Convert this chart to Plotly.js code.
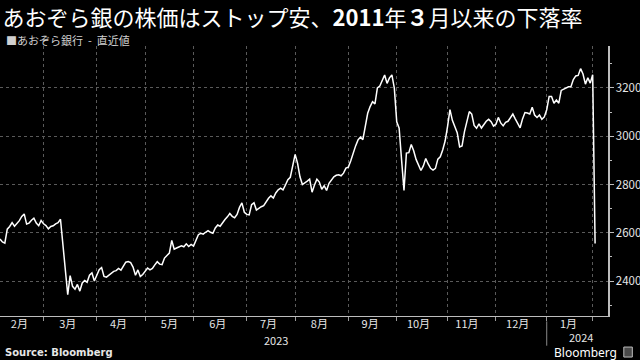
<!DOCTYPE html>
<html>
<head>
<meta charset="utf-8">
<script src="https://cdn.plot.ly/plotly-3.0.1.min.js"></script>
<style>html,body{margin:0;padding:0;background:#000;}#chart{width:640px;height:360px;}</style>
</head>
<body>
<div id="chart"></div>
<script>
// Trading dates (Tokyo) and closing prices of Aozora Bank (JPY)
const dates = [
"2023-02-02","2023-02-03","2023-02-06","2023-02-07","2023-02-08","2023-02-09","2023-02-10","2023-02-13","2023-02-14","2023-02-15","2023-02-16","2023-02-17","2023-02-20","2023-02-21","2023-02-22","2023-02-24","2023-02-27","2023-02-28",
"2023-03-01","2023-03-02","2023-03-03","2023-03-06","2023-03-07","2023-03-08","2023-03-09","2023-03-10","2023-03-13","2023-03-14","2023-03-15","2023-03-16","2023-03-17","2023-03-20","2023-03-22","2023-03-23","2023-03-24","2023-03-27","2023-03-28","2023-03-29","2023-03-30","2023-03-31",
"2023-04-03","2023-04-04","2023-04-05","2023-04-06","2023-04-07","2023-04-10","2023-04-11","2023-04-12","2023-04-13","2023-04-14","2023-04-17","2023-04-18","2023-04-19","2023-04-20","2023-04-21","2023-04-24","2023-04-25","2023-04-26","2023-04-27","2023-04-28",
"2023-05-01","2023-05-02","2023-05-08","2023-05-09","2023-05-10","2023-05-11","2023-05-12","2023-05-15","2023-05-16","2023-05-17","2023-05-18","2023-05-19","2023-05-22","2023-05-23","2023-05-24","2023-05-25","2023-05-26","2023-05-29","2023-05-30","2023-05-31",
"2023-06-01","2023-06-02","2023-06-05","2023-06-06","2023-06-07","2023-06-08","2023-06-09","2023-06-12","2023-06-13","2023-06-14","2023-06-15","2023-06-16","2023-06-19","2023-06-20","2023-06-21","2023-06-22","2023-06-23","2023-06-26","2023-06-27","2023-06-28","2023-06-29","2023-06-30",
"2023-07-03","2023-07-04","2023-07-05","2023-07-06","2023-07-07","2023-07-10","2023-07-11","2023-07-12","2023-07-13","2023-07-14","2023-07-18","2023-07-19","2023-07-20","2023-07-21","2023-07-24","2023-07-25","2023-07-26","2023-07-27","2023-07-28","2023-07-31",
"2023-08-01","2023-08-02","2023-08-03","2023-08-04","2023-08-07","2023-08-08","2023-08-09","2023-08-10","2023-08-14","2023-08-15","2023-08-16","2023-08-17","2023-08-18","2023-08-21","2023-08-22","2023-08-23","2023-08-24","2023-08-25","2023-08-28","2023-08-29","2023-08-30","2023-08-31",
"2023-09-01","2023-09-04","2023-09-05","2023-09-06","2023-09-07","2023-09-08","2023-09-11","2023-09-12","2023-09-13","2023-09-14","2023-09-15","2023-09-19","2023-09-20","2023-09-21","2023-09-22","2023-09-25","2023-09-26","2023-09-27","2023-09-28","2023-09-29",
"2023-10-02","2023-10-03","2023-10-04","2023-10-05","2023-10-06","2023-10-10","2023-10-11","2023-10-12","2023-10-13","2023-10-16","2023-10-17","2023-10-18","2023-10-19","2023-10-20","2023-10-23","2023-10-24","2023-10-25","2023-10-26","2023-10-27","2023-10-30","2023-10-31",
"2023-11-01","2023-11-02","2023-11-06","2023-11-07","2023-11-08","2023-11-09","2023-11-10","2023-11-13","2023-11-14","2023-11-15","2023-11-16","2023-11-17","2023-11-20","2023-11-21","2023-11-22","2023-11-24","2023-11-27","2023-11-28","2023-11-29","2023-11-30",
"2023-12-01","2023-12-04","2023-12-05","2023-12-06","2023-12-07","2023-12-08","2023-12-11","2023-12-12","2023-12-13","2023-12-14","2023-12-15","2023-12-18","2023-12-19","2023-12-20","2023-12-21","2023-12-22","2023-12-25","2023-12-26","2023-12-27","2023-12-28","2023-12-29",
"2024-01-04","2024-01-05","2024-01-09","2024-01-10","2024-01-11","2024-01-12","2024-01-15","2024-01-16","2024-01-17","2024-01-18","2024-01-19","2024-01-22","2024-01-23","2024-01-24","2024-01-25","2024-01-26","2024-01-29","2024-01-30","2024-01-31",
"2024-02-01","2024-02-02"
];
const prices = [
2574,2562,2557,2615,2626,2642,2627,2638,2650,2668,2678,2636,2640,2652,2660,2640,2629,2651,
2637,2630,2616,2626,2629,2637,2642,2656,2560,2450,2343,2422,2378,2366,2386,2358,2392,2402,2395,2424,2434,2400,
2425,2447,2456,2419,2416,2425,2432,2440,2443,2452,2445,2462,2478,2481,2476,2458,2424,2446,2419,2427,
2440,2454,2446,2452,2467,2480,2470,2468,2495,2506,2516,2568,2532,2537,2540,2546,2542,2554,2543,2552,
2545,2572,2592,2598,2594,2602,2609,2602,2598,2620,2632,2627,2642,2655,2666,2680,2668,2662,2676,2705,2724,2685,
2676,2674,2716,2724,2694,2702,2708,2712,2730,2743,2753,2744,2765,2778,2785,2778,2798,2820,2830,2880,
2925,2888,2832,2800,2806,2814,2822,2768,2798,2822,2810,2780,2795,2775,2805,2819,2832,2838,2840,2836,2847,2868,
2872,2898,2932,2960,2985,2996,2986,3045,3095,3123,3143,3134,3200,3208,3235,3254,3219,3242,3254,3200,
3060,3033,2902,2775,2930,2932,2966,2940,2904,2880,2858,2877,2908,2885,2867,2860,2867,2905,2915,2943,2980,
3040,3110,3066,3040,3015,2956,2960,3019,3060,3102,3092,3045,3033,3051,3034,3048,3062,3070,3060,3042,
3050,3078,3055,3043,3058,3062,3080,3092,3072,3050,3035,3072,3098,3096,3092,3120,3088,3078,3088,3070,3080,
3110,3165,3165,3137,3150,3137,3190,3195,3203,3205,3205,3235,3250,3252,3280,3258,3216,3242,3220,
3255,2555
];
// Tokyo market holidays on weekdays (for the trading-day axis)
const holidays = ["2023-02-23","2023-03-21","2023-05-03","2023-05-04","2023-05-05","2023-07-17","2023-08-11","2023-09-18","2023-10-09","2023-11-03","2023-11-23","2024-01-01","2024-01-02","2024-01-03","2024-01-08","2024-02-12"];
// Month boundaries (first trading day of each month)
const monthStarts = ["2023-03-01","2023-04-03","2023-05-01","2023-06-01","2023-07-03","2023-08-01","2023-09-01","2023-10-02","2023-11-01","2023-12-01","2024-01-04","2024-02-01"];
// Month label positions and texts
const monthMids = ["2023-02-14","2023-03-15","2023-04-14","2023-05-18","2023-06-15","2023-07-14","2023-08-16","2023-09-14","2023-10-16","2023-11-14","2023-12-14","2024-01-18"];
const monthLabels = ["2月","3月","4月","5月","6月","7月","8月","9月","10月","11月","12月","1月"];
// Year labels and their positions
const yearLabels = ["2023","2024"];
const yearPos = ["2023-07-20","2024-01-25"];
const yearY = [-0.088, -0.079];
const yTicks = [2400,2600,2800,3000,3200];

const FONT = '"Noto Sans CJK JP", "Noto Sans", sans-serif';
const breaks = [{bounds:["sat","mon"]},{values:holidays}];
const xRange = ["2023-02-02","2024-02-09 08:00"];

const trace = {
  x: dates, y: prices, type: 'scatter', mode: 'lines',
  line: {color:'#ffffff', width:1.5}, hoverinfo:'skip'
};

const annotations = [
  {text:'■あおぞら銀行  -  直近値', xref:'paper', yref:'paper', x:0.006, y:1.022,
   xanchor:'left', yanchor:'middle', showarrow:false, font:{family:FONT, size:11, color:'#d0d0d0'}},
  {text:'<b>Source: Bloomberg</b>', xref:'paper', yref:'paper', x:0.005, y:-0.134,
   xanchor:'left', yanchor:'middle', showarrow:false, font:{family:'"DejaVu Sans", sans-serif', size:10, color:'#e6e6e6'}},
  {text:'Bloomberg', xref:'paper', yref:'paper', x:1.018, y:-0.134,
   xanchor:'right', yanchor:'middle', showarrow:false, font:{family:'"Noto Sans", sans-serif', size:12, color:'#ffffff'}}
];
yearLabels.forEach((t, i) => annotations.push({
  text:t, xref:'x', yref:'paper', x:yearPos[i], y:yearY[i], xanchor:'center', yanchor:'middle',
  showarrow:false, font:{family:FONT, size:11, color:'#e6e6e6'}
}));

const layout = {
  width:640, height:360,
  paper_bgcolor:'#000', plot_bgcolor:'#000',
  margin:{l:0, r:32, t:46, b:44},
  showlegend:false,
  font:{family:FONT, color:'#e6e6e6', size:11},
  title:{text:'あおぞら銀の株価はストップ安、<b>2011</b>年<b>３</b>月以来の下落率',
         x:0.004, xanchor:'left', xref:'container', y:0.95, yanchor:'middle', yref:'container',
         font:{family:FONT, size:22, color:'#ffffff'}},
  xaxis:{type:'date', range:xRange, rangebreaks:breaks,
         tickvals:monthStarts, showticklabels:false,
         ticks:'outside', ticklen:4, tickcolor:'#9a9a9a', tickwidth:1,
         showgrid:true, gridcolor:'#5a5a5a', griddash:'dot', gridwidth:1,
         showline:true, linecolor:'#bdbdbd', linewidth:1, zeroline:false, fixedrange:true},
  xaxis2:{type:'date', range:xRange, rangebreaks:breaks, overlaying:'x', side:'bottom', anchor:'y',
          tickvals:monthMids, ticktext:monthLabels, ticks:'', showgrid:false, showline:false,
          zeroline:false, tickfont:{family:FONT, size:11, color:'#e6e6e6'}, fixedrange:true},
  yaxis:{side:'right', range:[2255,3374], tickvals:yTicks, ticks:'outside', ticklen:4,
         tickcolor:'#bdbdbd', showline:true, linecolor:'#bdbdbd', linewidth:1.5,
         showgrid:true, gridcolor:'#5a5a5a', griddash:'dot', gridwidth:1, zeroline:false,
         tickfont:{family:FONT, size:11.5, color:'#e6e6e6'},
         minor:{ticks:'outside', ticklen:2, dtick:100, tick0:2300, tickcolor:'#bdbdbd', showgrid:false},
         fixedrange:true},
  shapes:[
    {type:'line', xref:'x', yref:'paper', x0:'2024-01-04', x1:'2024-01-04', y0:-0.02, y1:-0.11,
     line:{color:'#8a8a8a', width:1}},
    {type:'rect', xref:'paper', yref:'paper', x0:1.026, x1:1.040, y0:-0.115, y1:-0.152,
     line:{color:'#bdbdbd', width:1}, fillcolor:'#4a4a4a'}
  ],
  annotations: annotations
};

Plotly.newPlot('chart', [trace, {x:[dates[0]], y:[prices[0]], xaxis:'x2', type:'scatter', mode:'markers', marker:{opacity:0}, hoverinfo:'skip'}], layout, {staticPlot:true, displayModeBar:false});
</script>
</body>
</html>
